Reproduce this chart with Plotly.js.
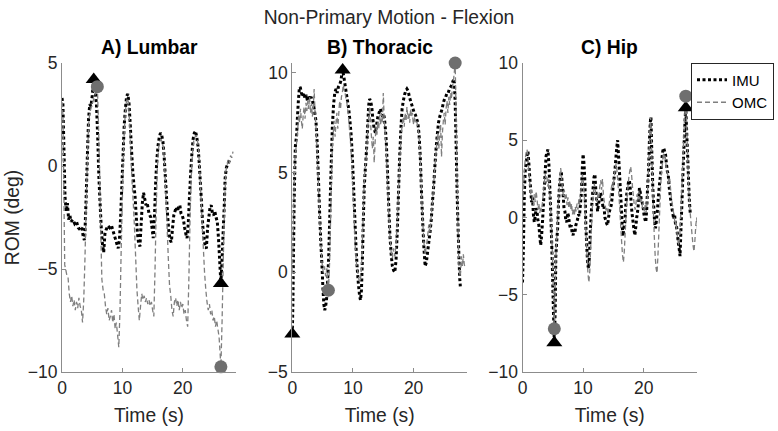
<!DOCTYPE html>
<html>
<head>
<meta charset="utf-8">
<script src="https://cdn.plot.ly/plotly-3.0.1.min.js"></script>
<style>html,body{margin:0;padding:0;background:#fff;}#chart{width:778px;height:431px;}</style>
</head>
<body>
<div id="chart"></div>
<script>
// ---- Data: [time (s), ROM (deg)] pairs ----
const panelTitles = ["A) Lumbar", "B) Thoracic", "C) Hip"];
const seriesNames = ["IMU", "OMC"];
const xTicks = [0, 10, 20];
const yTicksA = [-10, -5, 0, 5];
const yTicksB = [-5, 0, 5, 10];
const yTicksC = [-10, -5, 0, 5, 10];

const lumbarIMU = [[0,3.3],[0.15,3.0],[0.35,0.5],[0.5,-1.5],[0.7,-2.2],[0.9,-1.8],[1.1,-2.6],[1.3,-2.4],[1.5,-2.7],[1.8,-2.6],[2.1,-2.8],[2.4,-2.7],[2.7,-3.0],[3.0,-3.1],[3.3,-3.0],[3.5,-3.4],[3.7,-3.6],[3.8,-3.2],[4.0,-1.5],[4.2,0.5],[4.4,2.3],[4.6,3.0],[4.8,2.9],[5.0,3.4],[5.25,4.2],[5.5,3.6],[5.7,3.0],[5.9,1.5],[6.1,-0.5],[6.3,-1.8],[6.5,-3.0],[6.7,-3.8],[6.9,-4.2],[7.1,-3.3],[7.3,-3.1],[7.6,-2.9],[7.9,-3.0],[8.2,-2.9],[8.5,-3.2],[8.8,-3.5],[9.1,-3.8],[9.3,-4.0],[9.5,-3.6],[9.7,-2.5],[9.9,-1.0],[10.1,0.5],[10.3,2.0],[10.5,2.8],[10.7,3.4],[10.9,3.5],[11.1,3.0],[11.3,2.0],[11.5,0.8],[11.7,-0.2],[11.9,-0.9],[12.1,-1.5],[12.3,-2.5],[12.5,-3.3],[12.7,-3.8],[12.9,-3.9],[13.1,-2.8],[13.3,-1.8],[13.5,-1.3],[13.7,-1.6],[13.9,-1.9],[14.1,-1.8],[14.4,-2.3],[14.7,-2.5],[14.9,-3.0],[15.1,-3.5],[15.3,-2.5],[15.5,-0.8],[15.7,0.3],[15.9,1.0],[16.1,1.4],[16.3,1.6],[16.5,1.5],[16.7,1.2],[16.9,0.5],[17.1,-0.5],[17.3,-1.5],[17.5,-2.5],[17.7,-3.2],[17.9,-3.6],[18.1,-3.7],[18.3,-3.0],[18.5,-2.4],[18.7,-2.2],[18.9,-2.0],[19.1,-2.2],[19.3,-2.0],[19.5,-1.9],[19.7,-2.3],[19.9,-2.4],[20.1,-2.6],[20.3,-3.0],[20.5,-3.3],[20.7,-3.5],[20.9,-2.8],[21.1,-1.5],[21.3,-0.3],[21.5,0.6],[21.7,1.3],[21.9,1.6],[22.1,1.7],[22.3,1.4],[22.5,1.0],[22.7,0.2],[22.9,-0.8],[23.1,-1.8],[23.3,-2.9],[23.5,-3.5],[23.7,-3.9],[23.9,-4.0],[24.1,-3.0],[24.3,-2.5],[24.5,-2.0],[24.7,-1.9],[24.9,-2.3],[25.1,-2.4],[25.3,-2.2],[25.5,-2.5],[25.7,-2.7],[25.9,-3.5],[26.1,-4.6],[26.3,-5.7],[26.5,-4.5],[26.7,-3.0],[26.85,-2.0],[27.0,-0.6],[27.2,-0.1],[27.4,0.1],[27.6,0.2],[27.8,0.3]];
const lumbarOMC = [[0,3.1],[0.15,2.5],[0.3,-1.0],[0.45,-4.8],[0.6,-5.0],[0.8,-5.3],[1.0,-5.4],[1.2,-6.2],[1.4,-6.6],[1.6,-6.3],[1.8,-6.8],[2.0,-6.5],[2.2,-7.0],[2.4,-6.6],[2.6,-6.9],[2.8,-6.4],[3.0,-6.8],[3.2,-7.0],[3.4,-7.6],[3.6,-6.5],[3.8,-4.5],[4.0,-2.0],[4.2,0.3],[4.4,2.0],[4.6,2.6],[4.8,2.8],[5.0,3.0],[5.3,3.3],[5.6,3.6],[5.85,3.85],[6.0,2.5],[6.2,0.0],[6.4,-3.0],[6.6,-5.5],[6.8,-6.0],[7.0,-6.2],[7.2,-6.8],[7.4,-7.2],[7.6,-6.9],[7.8,-7.5],[8.0,-7.3],[8.2,-7.0],[8.4,-7.6],[8.6,-7.2],[8.8,-7.9],[9.0,-7.6],[9.2,-8.2],[9.4,-8.8],[9.6,-7.0],[9.8,-4.0],[10.0,-1.5],[10.2,1.0],[10.4,2.2],[10.6,3.0],[10.8,3.3],[11.0,3.1],[11.2,2.0],[11.4,0.5],[11.6,-0.8],[11.8,-1.8],[12.0,-3.0],[12.2,-4.5],[12.4,-6.0],[12.6,-6.8],[12.8,-7.5],[13.0,-6.8],[13.2,-6.2],[13.4,-6.5],[13.6,-6.3],[13.8,-6.6],[14.0,-6.4],[14.2,-6.7],[14.4,-6.5],[14.6,-6.8],[14.8,-6.6],[15.0,-7.0],[15.2,-7.3],[15.4,-5.0],[15.6,-2.0],[15.8,0.0],[16.0,0.9],[16.2,1.2],[16.4,1.3],[16.6,1.1],[16.8,0.9],[17.0,0.0],[17.2,-1.5],[17.4,-3.0],[17.6,-4.5],[17.8,-5.8],[18.0,-6.3],[18.2,-7.0],[18.4,-7.3],[18.6,-6.6],[18.8,-6.4],[19.0,-6.8],[19.2,-6.5],[19.4,-7.0],[19.6,-6.6],[19.8,-6.9],[20.0,-6.7],[20.2,-7.2],[20.4,-7.0],[20.6,-7.5],[20.8,-7.8],[21.0,-5.5],[21.2,-2.5],[21.4,-0.5],[21.6,0.6],[21.8,1.2],[22.0,1.4],[22.2,1.5],[22.4,1.3],[22.6,0.8],[22.8,-0.2],[23.0,-1.5],[23.2,-2.8],[23.4,-4.0],[23.6,-5.2],[23.8,-6.0],[24.0,-6.6],[24.2,-7.0],[24.4,-6.7],[24.6,-7.2],[24.8,-7.0],[25.0,-7.5],[25.2,-7.3],[25.4,-7.8],[25.6,-7.5],[25.8,-7.9],[26.0,-8.3],[26.15,-9.0],[26.3,-9.75],[26.5,-7.5],[26.7,-4.5],[26.9,-2.0],[27.1,-0.3],[27.3,0.0],[27.5,0.3],[27.7,0.1],[27.9,0.5],[28.1,0.4],[28.3,0.7]];

const thoracicIMU = [[0,-3.1],[0.1,-1.5],[0.2,1.0],[0.3,3.5],[0.4,5.0],[0.5,6.3],[0.6,6.6],[0.7,6.8],[0.85,7.8],[1.0,8.6],[1.15,9.2],[1.3,9.3],[1.5,9.0],[1.7,8.8],[1.9,9.0],[2.1,8.7],[2.3,8.9],[2.5,8.6],[2.7,8.8],[2.9,8.7],[3.1,8.8],[3.3,8.6],[3.5,8.4],[3.7,8.0],[3.9,7.6],[4.1,6.5],[4.3,4.8],[4.5,3.0],[4.7,1.5],[4.9,0.3],[5.05,-0.8],[5.2,-1.6],[5.35,-1.9],[5.5,-1.7],[5.7,-1.2],[5.85,-0.3],[6.0,0.8],[6.15,2.5],[6.3,4.2],[6.45,5.8],[6.6,7.3],[6.8,8.4],[7.0,9.0],[7.2,9.2],[7.4,9.0],[7.6,9.3],[7.8,9.4],[8.0,9.6],[8.15,9.9],[8.3,10.15],[8.5,9.8],[8.7,9.4],[8.9,9.0],[9.1,8.6],[9.3,8.2],[9.5,7.6],[9.7,6.9],[9.9,5.8],[10.1,4.3],[10.3,2.8],[10.5,1.3],[10.7,0.2],[10.9,-0.6],[11.1,-1.2],[11.25,-1.4],[11.4,-0.9],[11.55,0.6],[11.7,2.5],[11.85,4.2],[12.0,5.0],[12.15,5.7],[12.3,6.5],[12.45,7.5],[12.6,8.4],[12.75,8.7],[12.9,8.6],[13.1,8.3],[13.3,7.6],[13.5,7.2],[13.7,7.0],[13.9,7.4],[14.1,7.8],[14.3,8.0],[14.5,8.2],[14.7,8.0],[14.9,7.8],[15.1,7.9],[15.3,7.4],[15.5,6.5],[15.7,5.0],[15.9,3.3],[16.1,1.8],[16.3,0.9],[16.5,0.3],[16.7,0.1],[16.9,0.0],[17.1,0.6],[17.3,2.0],[17.5,3.9],[17.7,5.8],[17.9,7.2],[18.1,8.2],[18.3,8.6],[18.5,8.9],[18.7,9.1],[18.9,9.2],[19.1,9.1],[19.3,8.8],[19.5,8.6],[19.7,8.4],[19.9,8.2],[20.1,8.0],[20.3,7.9],[20.5,7.7],[20.7,7.5],[20.9,6.9],[21.1,5.8],[21.3,4.0],[21.5,2.5],[21.7,1.2],[21.9,0.3],[22.1,0.5],[22.3,1.0],[22.5,1.5],[22.7,2.0],[22.9,2.6],[23.1,3.5],[23.3,4.3],[23.5,5.3],[23.7,6.2],[23.9,6.9],[24.1,7.5],[24.3,7.8],[24.5,8.0],[24.7,8.2],[24.9,8.5],[25.1,8.7],[25.3,8.8],[25.5,9.0],[25.7,9.0],[25.9,9.2],[26.1,9.3],[26.3,9.4],[26.5,9.6],[26.7,9.7],[26.85,8.5],[27.0,6.5],[27.15,4.2],[27.3,2.5],[27.45,1.0],[27.6,-0.3],[27.7,-0.7]];
const thoracicOMC = [[0,0.0],[0.15,2.0],[0.3,4.5],[0.45,5.8],[0.6,6.2],[0.75,6.6],[0.9,7.2],[1.05,7.9],[1.2,7.5],[1.35,8.2],[1.5,7.6],[1.65,7.2],[1.8,7.9],[1.95,8.3],[2.1,7.7],[2.25,8.5],[2.4,8.1],[2.55,8.6],[2.7,8.2],[2.85,8.8],[3.0,8.0],[3.15,8.5],[3.3,7.8],[3.45,8.2],[3.6,9.2],[3.75,8.0],[3.9,7.3],[4.1,6.0],[4.3,4.5],[4.5,2.8],[4.7,1.5],[4.9,0.5],[5.1,0.0],[5.3,0.3],[5.5,-0.2],[5.7,0.2],[5.85,-0.5],[5.95,-0.9],[6.15,0.5],[6.3,2.5],[6.45,4.5],[6.6,6.3],[6.75,7.0],[6.9,7.6],[7.05,6.8],[7.2,7.5],[7.35,8.0],[7.5,7.2],[7.65,7.9],[7.8,8.6],[7.95,8.2],[8.1,8.8],[8.25,9.0],[8.4,9.4],[8.55,9.1],[8.7,9.0],[8.85,8.7],[9.0,8.5],[9.2,8.0],[9.4,7.3],[9.6,6.5],[9.8,5.5],[10.0,4.0],[10.2,2.6],[10.4,1.2],[10.6,0.4],[10.8,0.0],[11.0,-0.4],[11.2,-0.5],[11.4,0.2],[11.55,1.5],[11.7,3.0],[11.85,4.5],[12.0,5.2],[12.15,5.6],[12.3,6.3],[12.45,7.3],[12.6,7.8],[12.75,8.3],[12.9,7.5],[13.05,6.8],[13.2,6.2],[13.35,6.8],[13.5,5.5],[13.65,6.5],[13.8,7.3],[13.95,6.9],[14.1,7.6],[14.25,7.2],[14.4,7.9],[14.55,7.4],[14.7,8.0],[14.85,7.5],[15.0,9.0],[15.15,7.7],[15.3,7.0],[15.5,6.0],[15.7,4.5],[15.9,3.0],[16.1,1.8],[16.3,1.0],[16.5,0.7],[16.7,1.2],[16.9,0.8],[17.1,1.4],[17.3,2.5],[17.5,4.0],[17.7,5.5],[17.9,6.6],[18.1,7.4],[18.3,7.8],[18.45,7.3],[18.6,8.0],[18.75,7.6],[18.9,8.3],[19.05,7.7],[19.2,8.0],[19.35,7.5],[19.5,8.2],[19.65,7.8],[19.8,8.0],[19.95,7.4],[20.1,7.8],[20.3,7.5],[20.5,7.6],[20.7,7.3],[20.9,6.8],[21.1,5.6],[21.3,4.0],[21.5,2.6],[21.7,1.5],[21.9,0.9],[22.1,1.3],[22.3,1.8],[22.5,2.4],[22.7,2.0],[22.9,2.8],[23.1,3.5],[23.3,4.4],[23.5,5.3],[23.7,6.0],[23.85,6.6],[24.0,7.0],[24.15,6.2],[24.3,6.9],[24.45,7.4],[24.6,5.8],[24.75,7.0],[24.9,7.6],[25.05,8.0],[25.2,7.4],[25.35,8.2],[25.5,8.6],[25.65,8.0],[25.8,8.8],[25.95,8.4],[26.1,9.0],[26.25,8.7],[26.4,9.3],[26.55,9.6],[26.7,10.0],[26.85,10.5],[27.0,8.0],[27.15,5.0],[27.3,2.5],[27.45,0.5],[27.6,-0.2],[27.75,0.0],[27.9,0.8],[28.05,0.3],[28.2,0.9],[28.35,0.4],[28.5,0.2]];

const hipIMU = [[0,-4.2],[0.15,-2.0],[0.3,1.5],[0.45,3.0],[0.6,3.5],[0.75,4.0],[0.9,4.3],[1.05,3.5],[1.2,2.6],[1.35,1.8],[1.5,1.0],[1.65,1.3],[1.8,0.2],[1.95,-0.3],[2.1,0.1],[2.25,0.6],[2.4,0.4],[2.55,-0.2],[2.7,-0.5],[2.85,-1.2],[3.0,-1.8],[3.15,-1.2],[3.3,-0.3],[3.45,0.8],[3.6,1.9],[3.75,3.0],[3.9,4.0],[4.05,4.2],[4.2,4.4],[4.35,3.5],[4.5,2.0],[4.65,0.5],[4.8,-1.4],[4.95,-3.5],[5.1,-6.0],[5.25,-8.1],[5.4,-6.0],[5.5,-2.5],[5.65,-1.5],[5.8,-0.7],[5.95,1.0],[6.1,2.0],[6.25,2.6],[6.4,3.0],[6.55,2.2],[6.7,1.5],[6.85,0.6],[7.0,0.4],[7.15,-0.2],[7.3,-0.3],[7.45,0.3],[7.6,0.1],[7.75,-0.4],[7.9,-0.7],[8.05,-0.5],[8.2,-1.0],[8.35,-1.15],[8.5,-0.8],[8.65,-1.0],[8.8,-0.5],[8.95,-0.3],[9.1,-0.1],[9.25,0.2],[9.4,0.1],[9.55,0.8],[9.7,1.5],[9.85,3.0],[10.0,4.1],[10.15,3.5],[10.3,2.3],[10.45,-0.5],[10.6,-1.8],[10.75,-3.0],[10.9,-3.3],[11.05,-2.5],[11.2,-0.8],[11.35,0.3],[11.5,1.2],[11.65,1.9],[11.8,2.6],[11.95,2.8],[12.1,1.8],[12.25,1.0],[12.4,0.4],[12.55,0.9],[12.7,1.2],[12.85,1.6],[13.0,1.4],[13.15,1.1],[13.3,0.6],[13.45,0.7],[13.6,0.0],[13.75,-0.2],[13.9,-0.4],[14.05,-0.5],[14.2,0.0],[14.35,0.4],[14.5,0.6],[14.65,0.8],[14.8,1.3],[14.95,2.0],[15.1,2.5],[15.25,3.0],[15.4,3.8],[15.55,4.5],[15.7,5.0],[15.85,4.0],[16.0,3.0],[16.15,1.8],[16.3,0.8],[16.45,-0.5],[16.6,-1.2],[16.75,-0.6],[16.9,-0.3],[17.05,0.8],[17.2,1.5],[17.35,1.9],[17.5,2.3],[17.65,2.4],[17.8,1.8],[17.95,0.8],[18.1,0.2],[18.25,-0.3],[18.4,-0.8],[18.55,-1.15],[18.7,-0.6],[18.85,0.0],[19.0,0.4],[19.15,1.0],[19.3,1.9],[19.45,1.6],[19.6,1.2],[19.75,1.0],[19.9,0.7],[20.05,0.2],[20.2,-0.1],[20.35,-0.3],[20.5,0.5],[20.65,2.0],[20.8,3.0],[20.95,5.0],[21.1,6.2],[21.2,6.5],[21.35,4.1],[21.5,2.0],[21.65,0.8],[21.8,-0.3],[21.95,-0.7],[22.1,-0.2],[22.25,0.4],[22.4,1.2],[22.55,1.9],[22.7,2.5],[22.85,3.0],[23.0,3.8],[23.15,4.3],[23.3,4.5],[23.45,4.3],[23.6,4.1],[23.75,3.5],[23.9,3.0],[24.05,2.8],[24.2,2.0],[24.35,1.5],[24.5,1.0],[24.65,0.6],[24.8,0.3],[24.95,-0.1],[25.1,0.2],[25.25,-0.4],[25.4,-0.5],[25.55,-1.0],[25.7,-1.6],[25.85,-2.0],[26.0,-2.5],[26.15,-0.8],[26.3,0.8],[26.45,2.5],[26.6,4.1],[26.75,5.5],[26.85,6.5],[26.95,7.1],[27.1,5.5],[27.25,4.1],[27.4,2.5],[27.55,1.0],[27.7,0.2]];
const hipOMC = [[0,0.8],[0.15,1.8],[0.3,3.0],[0.45,3.8],[0.6,4.2],[0.75,4.4],[0.9,4.0],[1.05,3.0],[1.2,2.2],[1.35,1.5],[1.5,1.8],[1.65,1.2],[1.8,0.8],[1.95,1.5],[2.1,1.0],[2.25,1.7],[2.4,1.2],[2.55,0.5],[2.7,0.9],[2.85,0.3],[3.0,0.7],[3.15,0.4],[3.3,1.0],[3.45,1.6],[3.6,2.3],[3.75,2.8],[3.9,2.2],[4.05,2.6],[4.2,2.0],[4.35,2.5],[4.5,1.6],[4.65,0.6],[4.8,-0.8],[4.95,-2.5],[5.1,-5.0],[5.25,-7.2],[5.4,-4.5],[5.55,-2.0],[5.7,-1.0],[5.85,0.5],[6.0,1.4],[6.15,2.4],[6.3,3.2],[6.45,2.6],[6.6,1.8],[6.75,1.4],[6.9,1.8],[7.05,1.2],[7.2,1.5],[7.35,0.8],[7.5,1.3],[7.65,0.6],[7.8,1.1],[7.95,0.5],[8.1,0.9],[8.25,0.2],[8.4,0.6],[8.55,0.1],[8.7,0.7],[8.85,0.4],[9.0,0.9],[9.15,0.5],[9.3,1.2],[9.45,0.8],[9.6,1.6],[9.75,2.2],[9.9,2.8],[10.05,2.3],[10.2,1.5],[10.35,0.2],[10.5,-1.2],[10.65,-2.5],[10.8,-3.6],[10.95,-4.2],[11.1,-3.5],[11.25,-2.0],[11.4,-0.5],[11.55,0.8],[11.7,1.6],[11.85,2.2],[12.0,1.8],[12.15,1.2],[12.3,1.0],[12.45,1.5],[12.6,1.3],[12.75,2.0],[12.9,2.4],[13.05,1.8],[13.2,2.5],[13.35,1.5],[13.5,1.0],[13.65,0.8],[13.8,0.4],[13.95,0.6],[14.1,0.2],[14.25,0.7],[14.4,1.2],[14.55,1.6],[14.7,2.0],[14.85,2.3],[15.0,2.0],[15.15,2.7],[15.3,3.1],[15.45,3.5],[15.6,3.0],[15.75,2.2],[15.9,1.5],[16.05,0.6],[16.2,-0.5],[16.35,-1.5],[16.5,-2.4],[16.65,-2.9],[16.8,-2.2],[16.95,-1.0],[17.1,0.3],[17.25,1.2],[17.4,2.0],[17.55,2.6],[17.7,3.0],[17.85,3.3],[18.0,2.8],[18.15,2.0],[18.3,1.4],[18.45,0.8],[18.6,0.5],[18.75,1.0],[18.9,1.5],[19.05,1.1],[19.2,1.7],[19.35,1.3],[19.5,0.9],[19.65,1.2],[19.8,0.6],[19.95,1.0],[20.1,0.4],[20.25,0.8],[20.4,0.3],[20.55,0.9],[20.7,2.2],[20.85,3.8],[21.0,5.5],[21.15,6.5],[21.3,4.8],[21.45,2.5],[21.6,0.5],[21.75,-1.2],[21.9,-2.5],[22.05,-3.3],[22.2,-3.6],[22.35,-2.5],[22.5,-1.0],[22.65,0.5],[22.8,2.0],[22.95,3.0],[23.1,3.5],[23.25,4.2],[23.4,3.8],[23.55,4.0],[23.7,3.3],[23.85,3.0],[24.0,2.7],[24.15,2.2],[24.3,2.5],[24.45,1.8],[24.6,1.2],[24.75,0.8],[24.9,0.4],[25.05,0.0],[25.2,-0.5],[25.35,-0.2],[25.5,-1.0],[25.65,-1.5],[25.8,-1.8],[25.95,-1.2],[26.1,0.0],[26.25,1.5],[26.4,3.0],[26.55,4.5],[26.7,6.0],[26.85,7.0],[26.95,7.85],[27.1,6.0],[27.25,4.0],[27.4,2.2],[27.55,1.0],[27.7,0.2],[27.85,-0.5],[28.0,-1.2],[28.15,-1.8],[28.3,-2.2],[28.45,-1.5],[28.6,-0.5],[28.75,0.0],[28.9,-0.8]];

// Extreme-value markers: [time, value]
const lumbarIMUMarks = [[5.25,4.2],[26.3,-5.7]];
const lumbarOMCMarks = [[5.85,3.85],[26.3,-9.75]];
const thoracicIMUMarks = [[0,-3.1],[8.3,10.15]];
const thoracicOMCMarks = [[5.95,-0.9],[26.85,10.5]];
const hipIMUMarks = [[5.25,-8.1],[26.95,7.1]];
const hipOMCMarks = [[5.25,-7.2],[26.95,7.85]];

// ---- Styling ----
const FONT = "'Liberation Sans', Arial, Helvetica, sans-serif";
const TXT = "#262626";
const AXC = "#8c8c8c";
const OMC_COLOR = "#7f7f7f";
const CIRCLE_COLOR = "#6f6f6f";

const panels = [
  {imu: lumbarIMU, omc: lumbarOMC, im: lumbarIMUMarks, om: lumbarOMCMarks, yr: [-10, 5], yt: yTicksA},
  {imu: thoracicIMU, omc: thoracicOMC, im: thoracicIMUMarks, om: thoracicOMCMarks, yr: [-5, 10.5], yt: yTicksB},
  {imu: hipIMU, omc: hipOMC, im: hipIMUMarks, om: hipOMCMarks, yr: [-10, 10], yt: yTicksC}
];
const W = 778, H = 431;
const xDom = [[62/W, 236/W], [292.3/W, 467/W], [522.5/W, 697/W]];
const yDom = [(H-372)/H, (H-63)/H];

const traces = [];
const layout = {
  width: W, height: H,
  margin: {l: 0, r: 0, t: 0, b: 0},
  paper_bgcolor: "#fff", plot_bgcolor: "#fff",
  font: {family: FONT, color: TXT, size: 17.5},
  title: {text: "Non-Primary Motion - Flexion", x: 0.5, xanchor: "center", y: 1 - 17/H, yanchor: "middle", yref: "container", font: {family: FONT, size: 19.3, color: TXT}},
  showlegend: true,
  legend: {x: 774/W, y: 1 - 62.5/H, xanchor: "right", yanchor: "top", bgcolor: "#fff", bordercolor: "#262626", borderwidth: 1, font: {family: FONT, size: 15, color: "#000"}, tracegroupgap: 0, itemwidth: 30},
  annotations: []
};

panels.forEach((p, i) => {
  const n = i === 0 ? "" : String(i + 1);
  const xa = "x" + n, ya = "y" + n;
  traces.push({x: p.imu.map(d => d[0]), y: p.imu.map(d => d[1]), xaxis: xa, yaxis: ya, type: "scatter", mode: "lines",
    name: seriesNames[0], legendgroup: "imu", showlegend: i === 2,
    line: {color: "#000", width: 3, dash: "3px,2.5px", simplify: false}});
  traces.push({x: p.omc.map(d => d[0]), y: p.omc.map(d => d[1]), xaxis: xa, yaxis: ya, type: "scatter", mode: "lines",
    name: seriesNames[1], legendgroup: "omc", showlegend: i === 2,
    line: {color: OMC_COLOR, width: 1.3, dash: "5px,3px", simplify: false}});
  traces.push({x: p.im.map(d => d[0]), y: p.im.map(d => d[1]), xaxis: xa, yaxis: ya, type: "scatter", mode: "markers",
    showlegend: false, cliponaxis: false, marker: {symbol: "triangle-up", size: 14, color: "#000"}});
  traces.push({x: p.om.map(d => d[0]), y: p.om.map(d => d[1]), xaxis: xa, yaxis: ya, type: "scatter", mode: "markers",
    showlegend: false, cliponaxis: false, marker: {symbol: "circle", size: 13, color: CIRCLE_COLOR}});

  layout["xaxis" + n] = {
    domain: xDom[i], anchor: ya, range: [0, 28.8], tickvals: xTicks, ticks: "inside", ticklen: 4, tickcolor: AXC,
    showline: true, linecolor: AXC, linewidth: 1, showgrid: false, zeroline: false, fixedrange: true,
    tickfont: {family: FONT, size: 17.5, color: TXT},
    title: {text: "Time (s)", standoff: 11, font: {family: FONT, size: 19.3, color: TXT}}
  };
  layout["yaxis" + n] = {
    domain: yDom, anchor: xa, range: p.yr, tickvals: p.yt, ticks: "inside", ticklen: 4, tickcolor: AXC,
    showline: true, linecolor: AXC, linewidth: 1, showgrid: false, zeroline: false, fixedrange: true,
    tickfont: {family: FONT, size: 17.5, color: TXT}
  };
  if (i === 0) {
    layout.yaxis.title = {text: "ROM (deg)", standoff: 3, font: {family: FONT, size: 19.3, color: TXT}};
  }
  layout.annotations.push({text: "<b>" + panelTitles[i] + "</b>", xref: "paper", yref: "paper",
    x: (xDom[i][0] + xDom[i][1]) / 2, y: 1 - 47/H, xanchor: "center", yanchor: "middle", showarrow: false,
    font: {family: FONT, size: 19.3, color: "#000"}});
});

Plotly.newPlot("chart", traces, layout, {staticPlot: true, displayModeBar: false});
</script>
</body>
</html>
